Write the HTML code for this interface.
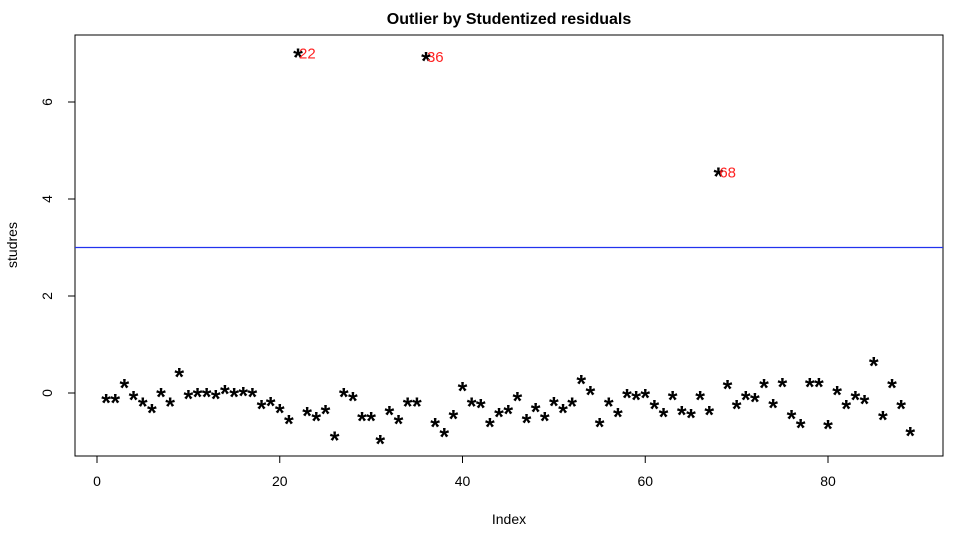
<!DOCTYPE html>
<html><head><meta charset="utf-8"><style>body{margin:0;background:#fff}svg{display:block;font-family:"Liberation Sans",sans-serif}</style></head>
<body>
<svg id="chart" width="975" height="543" viewBox="0 0 975 543"></svg>
<script>
const studres=[-0.12,-0.12,0.19,-0.06,-0.2,-0.33,0,-0.2,0.41,-0.04,0,0,-0.04,0.06,0,0.02,0,-0.25,-0.19,-0.33,-0.56,7.0,-0.39,-0.49,-0.35,-0.9,0,-0.08,-0.49,-0.49,-0.97,-0.37,-0.56,-0.2,-0.2,6.93,-0.62,-0.82,-0.45,0.12,-0.2,-0.23,-0.62,-0.41,-0.35,-0.08,-0.54,-0.31,-0.49,-0.19,-0.33,-0.2,0.27,0.04,-0.62,-0.2,-0.41,-0.02,-0.06,-0.02,-0.25,-0.41,-0.06,-0.37,-0.43,-0.06,-0.37,4.55,0.16,-0.25,-0.06,-0.1,0.19,-0.23,0.21,-0.45,-0.64,0.21,0.21,-0.66,0.04,-0.25,-0.06,-0.14,0.64,-0.47,0.19,-0.25,-0.8];
const outliers=[22,36,68];
const xTicks=[0,20,40,60,80];
const yTicks=[0,2,4,6];
const threshold=3;
const ns='http://www.w3.org/2000/svg';
const svg=document.getElementById('chart');
const X=v=>97+v*(828-97)/80;
const Y=v=>393-v*(393-102)/6;
function el(t,a,txt){const e=document.createElementNS(ns,t);for(const k in a)e.setAttribute(k,a[k]);if(txt!==undefined)e.textContent=txt;svg.appendChild(e);return e;}
let e;
e=el('rect',{x:75,y:35,width:868,height:421,fill:'none',stroke:'#000','stroke-width':1});


e=el('text',{x:509,y:24,'text-anchor':'middle','font-size':16,'font-weight':'bold'},'Outlier by Studentized residuals');


e=el('text',{x:509,y:524,'text-anchor':'middle','font-size':14},'Index');


e=el('text',{x:17,y:245,'text-anchor':'middle','font-size':14,transform:'rotate(-90 17 245)'},'studres');


e=el('line',{x1:X(xTicks[0]),x2:X(xTicks[xTicks.length-1]),y1:456,y2:456,stroke:'#000'});


xTicks.forEach(t=>{
  e=el('line',{x1:X(t),x2:X(t),y1:456,y2:463,stroke:'#000'});
  
  
  e=el('text',{x:X(t),y:486,'text-anchor':'middle','font-size':14},String(t));
  
  
});
e=el('line',{x1:75,x2:75,y1:Y(yTicks[0]),y2:Y(yTicks[yTicks.length-1]),stroke:'#000'});


yTicks.forEach(t=>{
  e=el('line',{x1:68,x2:75,y1:Y(t),y2:Y(t),stroke:'#000'});
  
  
  e=el('text',{x:52,y:Y(t),'text-anchor':'middle','font-size':14,transform:`rotate(-90 52 ${Y(t)})`},String(t));
  
  
});
e=el('line',{x1:75,x2:943,y1:Y(threshold),y2:Y(threshold),stroke:'#2233ee','stroke-width':1.2});


studres.forEach((v,i)=>{
  e=el('text',{x:X(i+1),y:Y(v)+12.5,'text-anchor':'middle','font-size':25,'font-weight':'bold'},'*');
  
  
});
outliers.forEach(k=>{
  e=el('text',{x:X(k)+1,y:Y(studres[k-1])+5,'font-size':15,fill:'#ff2020'},String(k));
  
  
});
</script>
</body></html>
